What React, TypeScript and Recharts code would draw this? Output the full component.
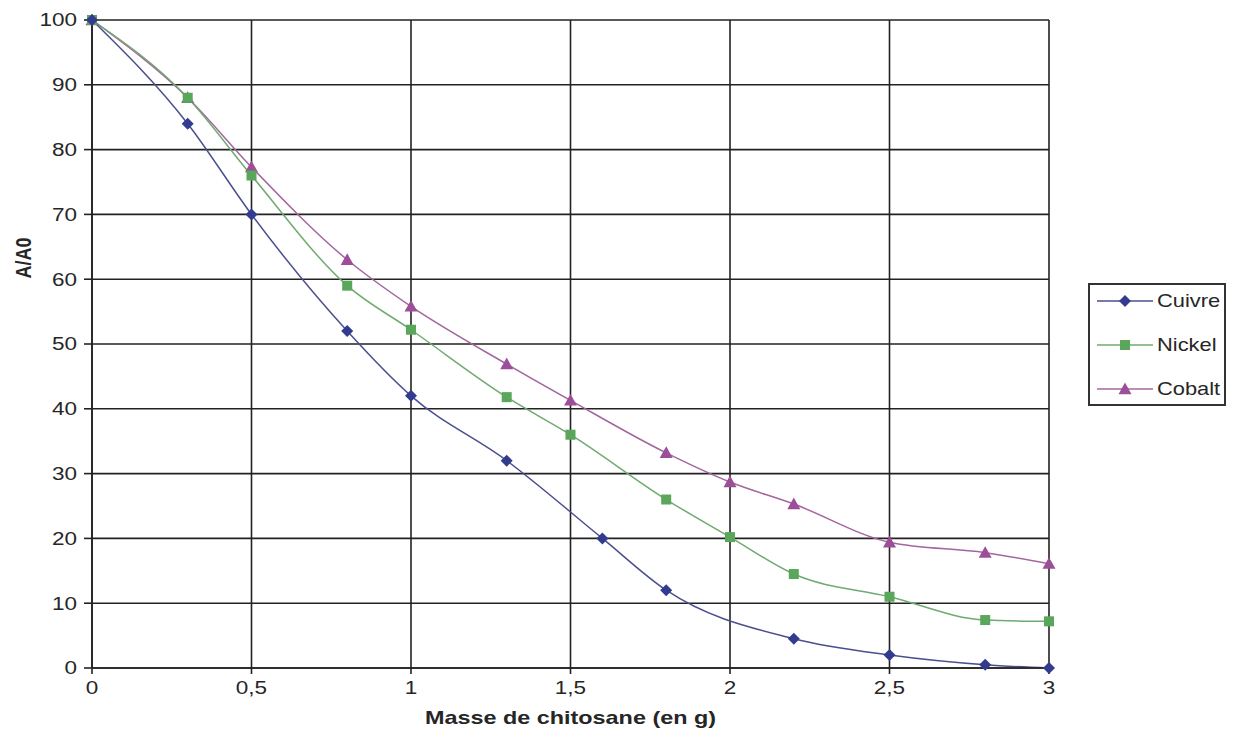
import React from "react";
import { LineChart, Line, XAxis, YAxis, CartesianGrid, Label } from "recharts";

const cuivreX = [0, 0.3, 0.5, 0.8, 1, 1.3, 1.6, 1.8, 2.2, 2.5, 2.8, 3];
const cuivreY = [100, 84, 70, 52, 42, 32, 20, 12, 4.5, 2, 0.5, 0];
const nickelX = [0, 0.3, 0.5, 0.8, 1, 1.3, 1.5, 1.8, 2, 2.2, 2.5, 2.8, 3];
const nickelY = [100, 88, 76, 59, 52.2, 41.8, 36, 26, 20.2, 14.5, 11, 7.4, 7.2];
const cobaltX = [0, 0.3, 0.5, 0.8, 1, 1.3, 1.5, 1.8, 2, 2.2, 2.5, 2.8, 3];
const cobaltY = [100, 88, 77.3, 63, 55.8, 46.9, 41.3, 33.2, 28.7, 25.3, 19.4, 17.8, 16.1];

const xTicks = [0, 0.5, 1, 1.5, 2, 2.5, 3];
const yTicks = [0, 10, 20, 30, 40, 50, 60, 70, 80, 90, 100];

const zip = (xs: number[], ys: number[]) => xs.map((x, i) => ({ x, y: ys[i] }));
const cuivreData = zip(cuivreX, cuivreY);
const nickelData = zip(nickelX, nickelY);
const cobaltData = zip(cobaltX, cobaltY);

const C_CU = "#333b8f";
const C_CU_LINE = "#4a4f8e";
const C_NI = "#5aa65a";
const C_NI_LINE = "#6faa6f";
const C_CO = "#9c4f98";
const C_CO_LINE = "#a4669f";

const FONT = "'Liberation Sans', Arial, sans-serif";
const TXT = "#262626";
const SX = 1.25;

const Diamond = (p: any) => {
  const { cx, cy, fill } = p;
  if (cx == null || cy == null) return null;
  const s = 6;
  return <path d={`M${cx},${cy - s}L${cx + s},${cy}L${cx},${cy + s}L${cx - s},${cy}Z`} fill={fill} />;
};
const Square = (p: any) => {
  const { cx, cy, fill } = p;
  if (cx == null || cy == null) return null;
  const s = 5;
  return <rect x={cx - s} y={cy - s} width={2 * s} height={2 * s} fill={fill} />;
};
const Triangle = (p: any) => {
  const { cx, cy, fill } = p;
  if (cx == null || cy == null) return null;
  const s = 6.5;
  return <path d={`M${cx},${cy - s}L${cx + s},${cy + s * 0.8}L${cx - s},${cy + s * 0.8}Z`} fill={fill} />;
};

const XTick = (p: any) => {
  const { x, y, payload } = p;
  return (
    <g transform={`translate(${x},${y})`}>
      <text transform={`scale(${SX},1)`} textAnchor="middle" dy="0.8em" fontSize={18} fontFamily={FONT} fill={TXT}>
        {String(payload.value).replace(".", ",")}
      </text>
    </g>
  );
};
const YTick = (p: any) => {
  const { x, y, payload } = p;
  return (
    <g transform={`translate(${x},${y})`}>
      <text transform={`scale(${SX},1)`} textAnchor="end" dy="0.36em" fontSize={18} fontFamily={FONT} fill={TXT}>
        {payload.value}
      </text>
    </g>
  );
};

const legendItems = [
  { name: "Cuivre", color: C_CU, line: C_CU_LINE, shape: "diamond" },
  { name: "Nickel", color: C_NI, line: C_NI_LINE, shape: "square" },
  { name: "Cobalt", color: C_CO, line: C_CO_LINE, shape: "triangle" },
];

const LegendBox = () => (
  <div
    style={{
      position: "absolute",
      left: 1080,
      top: 275,
      border: "2px solid #333",
      width: 138,
      height: 123,
      boxSizing: "border-box",
      background: "#fff",
      fontFamily: FONT,
      fontSize: 19,
      color: TXT,
    }}
  >
    {legendItems.map((it) => (
      <div key={it.name} style={{ display: "flex", alignItems: "center", height: 44, marginTop: it.name === "Cuivre" ? -6 : 0 }}>
        <svg width={60} height={16} style={{ marginLeft: 5, flex: "none" }}>
          <line x1={2} y1={8} x2={58} y2={8} stroke={it.line} strokeWidth={1.5} />
          {it.shape === "diamond" && <Diamond cx={30} cy={8} fill={it.color} />}
          {it.shape === "square" && <Square cx={30} cy={8} fill={it.color} />}
          {it.shape === "triangle" && <Triangle cx={30} cy={8} fill={it.color} />}
        </svg>
        <span style={{ marginLeft: 2, display: "inline-block", transform: "scaleX(1.15)", transformOrigin: "left center", whiteSpace: "nowrap" }}>
          {it.name}
        </span>
      </div>
    ))}
  </div>
);

export default function App() {
  return (
    <div style={{ fontFamily: FONT, background: "#fff", position: "relative", width: 1226, height: 740 }}>
      <LineChart width={1226} height={740} margin={{ top: 12, right: 185, left: 0, bottom: 0 }}>
        <CartesianGrid stroke="#222" strokeWidth={1.6} />
        <XAxis
          type="number"
          dataKey="x"
          domain={[0, 3]}
          ticks={xTicks}
          tick={<XTick />}
          stroke="#222"
          strokeWidth={1.6}
          tickSize={6}
          tickMargin={6}
          height={80}
          allowDuplicatedCategory={false}
        >
          <Label
            content={(props: any) => {
              const vb = props.viewBox || { x: 0, y: 0, width: 0, height: 0 };
              const x = vb.x + vb.width / 2;
              const y = 710;
              return (
                <g transform={`translate(${x},${y})`}>
                  <text
                    transform={`scale(1.3,1)`}
                    textAnchor="middle"
                    dominantBaseline="central"
                    style={{ fontWeight: "bold", fontSize: 18, fill: TXT, fontFamily: FONT }}
                  >
                    Masse de chitosane (en g)
                  </text>
                </g>
              );
            }}
          />
        </XAxis>
        <YAxis
          type="number"
          domain={[0, 100]}
          ticks={yTicks}
          tick={<YTick />}
          stroke="#222"
          strokeWidth={1.6}
          tickSize={8}
          tickMargin={7}
          width={84}
        >
          <Label
            content={(props: any) => {
              const vb = props.viewBox || { x: 0 };
              const x = vb.x + 15;
              const y = 250;
              return (
                <g transform={`translate(${x},${y}) rotate(-90)`}>
                  <text
                    transform="scale(1,1.25)"
                    textAnchor="middle"
                    dominantBaseline="central"
                    style={{ fontWeight: "bold", fontSize: 18, fill: TXT, fontFamily: FONT }}
                  >
                    A/A0
                  </text>
                </g>
              );
            }}
          />
        </YAxis>
        <Line
          data={cobaltData}
          dataKey="y"
          name="Cobalt"
          type="monotone"
          stroke={C_CO_LINE}
          strokeWidth={1.5}
          dot={<Triangle fill={C_CO} />}
          activeDot={false}
          isAnimationActive={false}
        />
        <Line
          data={nickelData}
          dataKey="y"
          name="Nickel"
          type="monotone"
          stroke={C_NI_LINE}
          strokeWidth={1.5}
          dot={<Square fill={C_NI} />}
          activeDot={false}
          isAnimationActive={false}
        />
        <Line
          data={cuivreData}
          dataKey="y"
          name="Cuivre"
          type="monotone"
          stroke={C_CU_LINE}
          strokeWidth={1.5}
          dot={<Diamond fill={C_CU} />}
          activeDot={false}
          isAnimationActive={false}
        />
      </LineChart>
      <LegendBox />
    </div>
  );
}
